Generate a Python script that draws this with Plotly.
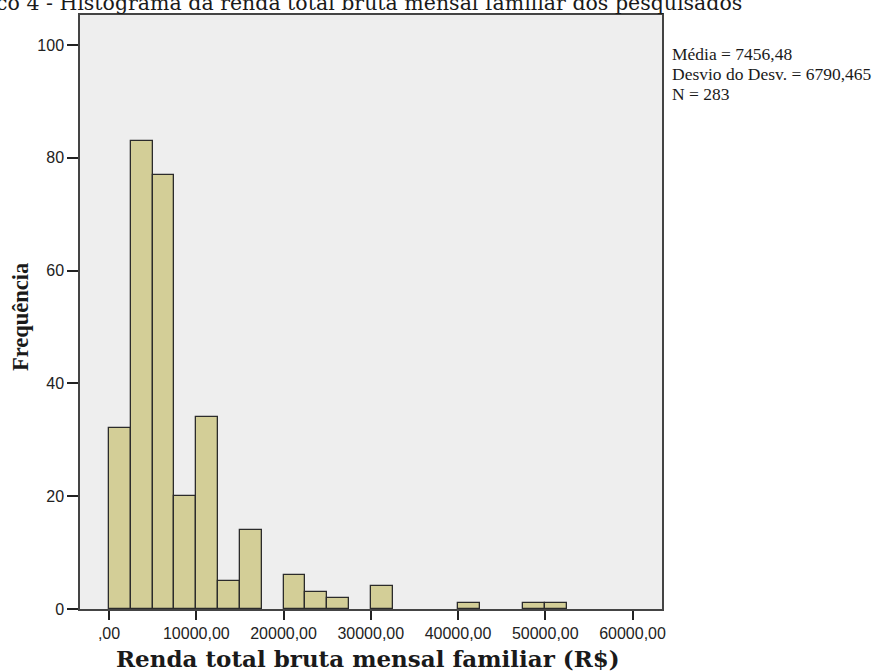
import plotly.graph_objects as go

bin_starts = [0, 2500, 5000, 7500, 10000, 12500, 15000, 17500, 20000, 22500, 25000,
              27500, 30000, 32500, 35000, 37500, 40000, 42500, 45000, 47500, 50000]
counts = [32, 83, 77, 20, 34, 5, 14, 0, 6, 3, 2, 0, 4, 0, 0, 0, 1, 0, 0, 1, 1]
bin_width = 2500

x_tickvals = [0, 10000, 20000, 30000, 40000, 50000, 60000]
x_ticktext = [",00", "10000,00", "20000,00", "30000,00", "40000,00", "50000,00", "60000,00"]
y_tickvals = [0, 20, 40, 60, 80, 100]

stats_lines = ["Média = 7456,48", "Desvio do Desv. = 6790,465", "N = 283"]
title_text = "Gráfico 4 - Histograma da renda total bruta mensal familiar dos pesquisados"
x_title = "Renda total bruta mensal familiar (R$)"
y_title = "Frequência"

# draw only non-empty bins (empty bins have no outline in the reference)
bx = [s for s, c in zip(bin_starts, counts) if c > 0]
by = [c for c in counts if c > 0]

fig = go.Figure()
fig.add_trace(go.Bar(
    x=bx, y=by, width=[bin_width] * len(bx), offset=0,
    marker=dict(color="#d3ce97", line=dict(color="#2b2b2b", width=1.3)),
    hoverinfo="x+y",
))

serif = "Liberation Serif, Times New Roman, serif"
wide_serif = "DejaVu Serif, serif"
sans = "Liberation Sans, Arial, sans-serif"

W, H = 873, 671
L, R, T, B = 80, 211, 15, 62

fig.update_layout(
    width=W, height=H,
    margin=dict(l=L, r=R, t=T, b=B, autoexpand=False),
    paper_bgcolor="white", plot_bgcolor="#eeeeee",
    showlegend=False,
    bargap=0,
    xaxis=dict(range=[-3330, 63380], tickvals=x_tickvals, ticktext=x_ticktext,
               showgrid=False, zeroline=False, showline=True, linecolor="#444444",
               linewidth=1.5, mirror=True, ticks="outside", ticklen=9, tickwidth=1.5,
               tickcolor="#222222", automargin=False,
               tickfont=dict(family=sans, size=16, color="#222222")),
    yaxis=dict(range=[0, 105.3], tickvals=y_tickvals,
               showgrid=False, zeroline=False, showline=True, linecolor="#444444",
               linewidth=1.5, mirror=True, ticks="outside", ticklen=11, tickwidth=1.5,
               tickcolor="#222222", automargin=False,
               tickfont=dict(family=sans, size=16, color="#222222")),
)

# statistics box, one line per annotation (tight line spacing)
stat_centers = [54, 74, 94]
for line, yc in zip(stats_lines, stat_centers):
    fig.add_annotation(
        xref="paper", yref="paper", x=0, y=1.0, xshift=670 - L, yshift=-(yc - T),
        xanchor="left", yanchor="middle", align="left", showarrow=False,
        text=line, font=dict(family=serif, size=17.5, color="#1a1a1a"),
    )

# cut-off title at the very top
fig.add_annotation(
    xref="paper", yref="paper", x=0, y=1.0, xshift=744 - L, yshift=T - 3,
    xanchor="right", yanchor="middle", showarrow=False,
    text=title_text, font=dict(family=wide_serif, size=20.5, color="#1a1a1a"),
)

# axis titles
fig.add_annotation(
    xref="paper", yref="paper", x=0, y=0, xshift=368 - L, yshift=-(658 - (H - B)),
    xanchor="center", yanchor="middle", showarrow=False,
    text="<b>" + x_title + "</b>", font=dict(family=wide_serif, size=23, color="#1a1a1a"),
)
fig.add_annotation(
    xref="paper", yref="paper", x=0, y=0, xshift=20 - L, yshift=(H - B) - 317,
    xanchor="center", yanchor="middle", showarrow=False, textangle=-90,
    text="<b>" + y_title + "</b>", font=dict(family=serif, size=22.5, color="#1a1a1a"),
)

fig.write_html("out.html", config={"displayModeBar": False})

# remove the default page margin so the figure starts at the window's corner
with open("out.html", "r", encoding="utf-8") as f:
    html = f.read()
html = html.replace("<body>", '<body style="margin:0;padding:0;overflow:hidden">', 1)
with open("out.html", "w", encoding="utf-8") as f:
    f.write(html)
